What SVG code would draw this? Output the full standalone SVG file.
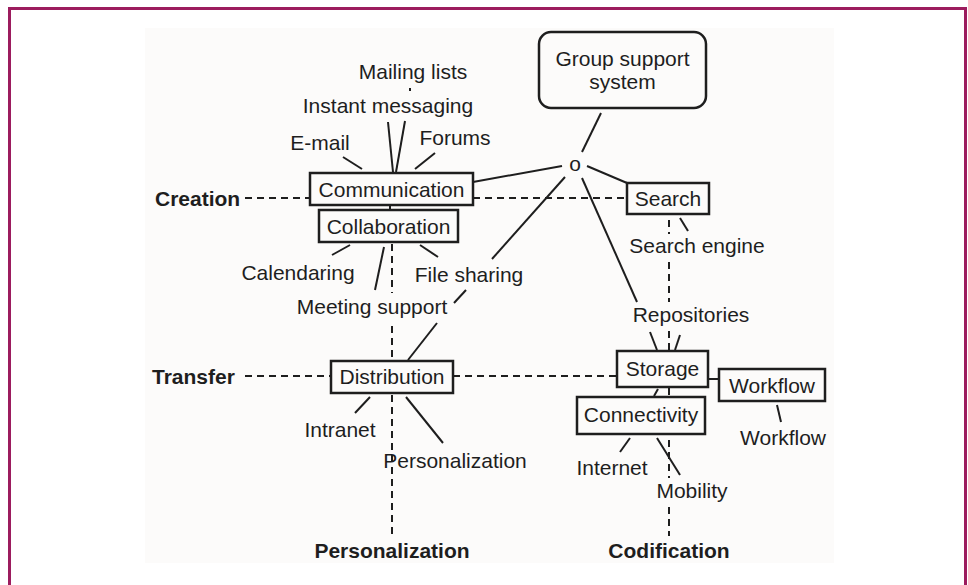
<svg xmlns="http://www.w3.org/2000/svg" width="968" height="585" viewBox="0 0 968 585">
<style>
.t{font-family:"Liberation Sans",Arial,sans-serif;font-size:21px;fill:#1e1e1e;text-anchor:middle}
.b{font-weight:bold}
.s{text-anchor:start}
.box{fill:none;stroke:#1e1e1e;stroke-width:2.5}
.ln{stroke:#1e1e1e;stroke-width:2;fill:none}
.ds{stroke:#1e1e1e;stroke-width:2;fill:none;stroke-dasharray:7 5}
</style>
<rect x="0" y="0" width="968" height="585" fill="#ffffff"/>
<rect x="145" y="28" width="689" height="535" fill="#fcfbfa"/>
<path d="M9.5,590 V8.5 H965.5 V590" fill="none" stroke="#9c1c5e" stroke-width="3"/>

<g id="connectors">
  <line class="ds" x1="245" y1="198" x2="310" y2="198"/>
  <line class="ds" x1="473" y1="198" x2="627" y2="198"/>
  <line class="ds" x1="245" y1="376" x2="331" y2="376"/>
  <line class="ds" x1="453" y1="376" x2="617" y2="376"/>
  <line class="ds" x1="392" y1="244" x2="392" y2="293"/>
  <line class="ds" x1="392" y1="326" x2="392" y2="361"/>
  <line class="ds" x1="392" y1="395" x2="392" y2="536"/>
  <line class="ds" x1="669" y1="220" x2="669" y2="234"/>
  <line class="ds" x1="669" y1="262" x2="669" y2="302"/>
  <line class="ds" x1="669" y1="331" x2="669" y2="350"/>
  <line class="ds" x1="669" y1="388" x2="669" y2="396"/>
  <line class="ds" x1="669" y1="440" x2="669" y2="478"/>
  <line class="ds" x1="669" y1="507" x2="669" y2="536"/>

  <line class="ln" x1="410" y1="88" x2="410" y2="91"/>
  <line class="ln" x1="388" y1="122" x2="393" y2="172"/>
  <line class="ln" x1="405" y1="121" x2="396" y2="172"/>
  <line class="ln" x1="343" y1="157" x2="362" y2="169"/>
  <line class="ln" x1="435" y1="153" x2="415" y2="169"/>
  <line class="ln" x1="390" y1="205" x2="390" y2="210"/>
  <line class="ln" x1="473" y1="182" x2="562" y2="166"/>
  <line class="ln" x1="601" y1="113" x2="582" y2="152"/>
  <line class="ln" x1="587" y1="166" x2="627" y2="183"/>
  <line class="ln" x1="565" y1="177" x2="492" y2="259"/>
  <line class="ln" x1="466" y1="290" x2="454" y2="303"/>
  <line class="ln" x1="437" y1="323" x2="408" y2="360"/>
  <line class="ln" x1="582" y1="178" x2="637" y2="302"/>
  <line class="ln" x1="680" y1="218" x2="688" y2="231"/>
  <line class="ln" x1="650" y1="332" x2="657" y2="350"/>
  <line class="ln" x1="680" y1="335" x2="675" y2="350"/>
  <line class="ln" x1="708" y1="379" x2="719" y2="379"/>
  <line class="ln" x1="777" y1="405" x2="781" y2="422"/>
  <line class="ln" x1="658" y1="389" x2="654" y2="396"/>
  <line class="ln" x1="350" y1="245" x2="332" y2="255"/>
  <line class="ln" x1="384" y1="247" x2="375" y2="290"/>
  <line class="ln" x1="420" y1="245" x2="438" y2="257"/>
  <line class="ln" x1="370" y1="397" x2="355" y2="413"/>
  <line class="ln" x1="406" y1="397" x2="443" y2="443"/>
  <line class="ln" x1="630" y1="438" x2="620" y2="452"/>
  <line class="ln" x1="657" y1="438" x2="680" y2="475"/>
</g>

<g id="group-support"><rect class="box" x="539" y="32" width="167" height="76" rx="12"/><text class="t" x="622.5" y="66">Group support</text><text class="t" x="622.5" y="89">system</text></g>
<g id="junction"><text class="t" x="575" y="170.5">o</text></g>
<g id="communication"><rect class="box" x="310" y="173" width="163" height="32"/><text class="t" x="391.5" y="197">Communication</text></g>
<g id="collaboration"><rect class="box" x="319" y="210" width="139" height="32"/><text class="t" x="388.5" y="234">Collaboration</text></g>
<g id="search"><rect class="box" x="627" y="183" width="82" height="31"/><text class="t" x="668" y="206">Search</text></g>
<g id="distribution"><rect class="box" x="331" y="361" width="122" height="32"/><text class="t" x="392" y="384">Distribution</text></g>
<g id="storage"><rect class="box" x="617" y="351" width="91" height="36"/><text class="t" x="662.5" y="376">Storage</text></g>
<g id="workflow-box"><rect class="box" x="719" y="369" width="106" height="32"/><text class="t" x="772" y="393">Workflow</text></g>
<g id="connectivity"><rect class="box" x="577" y="397" width="128" height="37"/><text class="t" x="641" y="422">Connectivity</text></g>

<g id="mailing-lists"><text class="t" x="413" y="79">Mailing lists</text></g>
<g id="instant-messaging"><text class="t" x="388" y="113">Instant messaging</text></g>
<g id="email"><text class="t" x="320" y="150">E-mail</text></g>
<g id="forums"><text class="t" x="455" y="145">Forums</text></g>
<g id="calendaring"><text class="t" x="298" y="280">Calendaring</text></g>
<g id="file-sharing"><text class="t" x="469" y="282">File sharing</text></g>
<g id="meeting-support"><text class="t" x="372" y="314">Meeting support</text></g>
<g id="intranet"><text class="t" x="340" y="437">Intranet</text></g>
<g id="personalization-item"><text class="t" x="455" y="468">Personalization</text></g>
<g id="search-engine"><text class="t" x="697" y="253">Search engine</text></g>
<g id="repositories"><text class="t" x="691" y="322">Repositories</text></g>
<g id="workflow-item"><text class="t" x="783" y="445">Workflow</text></g>
<g id="internet"><text class="t" x="612" y="475">Internet</text></g>
<g id="mobility"><text class="t" x="692" y="498">Mobility</text></g>

<g id="creation"><text class="t b s" x="155" y="206">Creation</text></g>
<g id="transfer"><text class="t b s" x="152" y="384">Transfer</text></g>
<g id="personalization-axis"><text class="t b" x="392" y="558">Personalization</text></g>
<g id="codification"><text class="t b" x="669" y="558">Codification</text></g>
</svg>
